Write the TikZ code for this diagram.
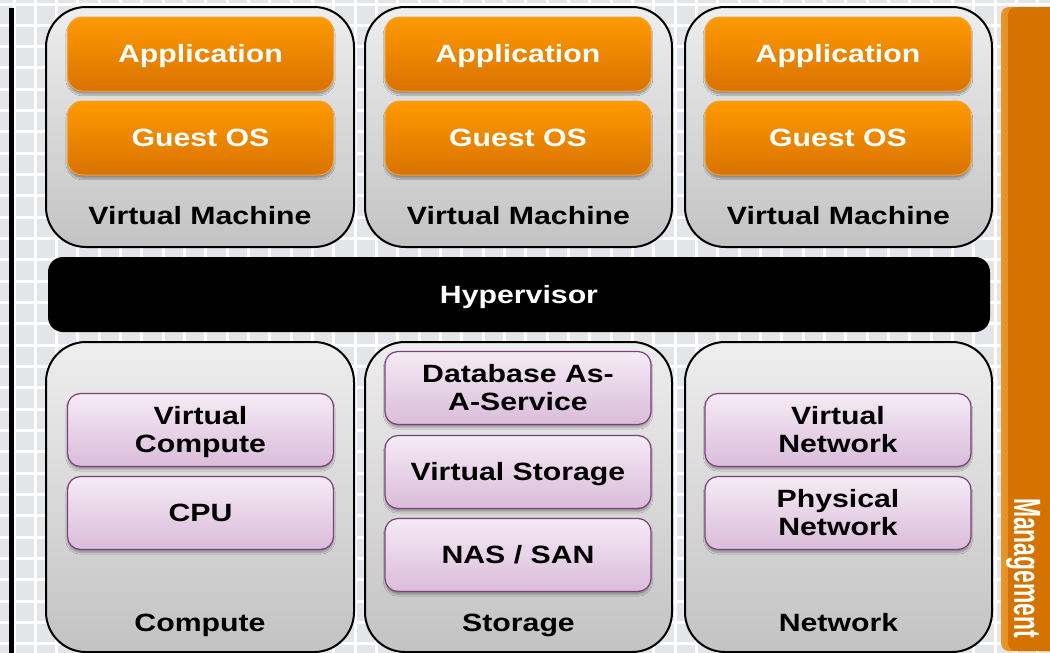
\documentclass[tikz,border=0pt]{standalone}
\usepackage{fontspec}
\newfontfamily\dfont[FakeStretch=1.21]{Liberation Sans}
\newfontfamily\mfont{Liberation Sans}
\usetikzlibrary{shadows.blur}
\definecolor{bgc}{HTML}{E4E5E9}
\definecolor{gtop}{HTML}{EEEEEE}
\definecolor{gbot}{HTML}{C3C3C3}
\definecolor{otop}{HTML}{FF9A00}
\definecolor{obot}{HTML}{D97200}
\definecolor{oline}{HTML}{F2A33A}
\definecolor{ptop}{HTML}{F5EBF5}
\definecolor{pbot}{HTML}{DABCDA}
\definecolor{pline}{HTML}{7B3F7B}
\definecolor{mleft}{HTML}{E8962A}
\definecolor{mmain}{HTML}{D57300}
\tikzset{
  txt/.style={font=\dfont\bfseries\fontsize{25}{28}\selectfont, align=center, inner sep=0pt,
    text height=17.9pt, text depth=0pt},
  two/.style={text height=45.9pt, text depth=0pt},
  graybox/.style={draw=black, line width=2pt, rounded corners=40pt, top color=gtop, bottom color=gbot, inner sep=0pt},
  orangebox/.style={draw=oline, line width=1pt, rounded corners=15pt, top color=otop, bottom color=obot, inner sep=0pt,
    minimum height=74pt, txt, text=white,
    blur shadow={shadow xshift=0pt, shadow yshift=-3pt, shadow blur steps=6, shadow opacity=35}},
  purplebox/.style={draw=pline, line width=1.2pt, rounded corners=13pt, top color=ptop, bottom color=pbot, inner sep=0pt,
    minimum height=73pt, txt, text=black,
    blur shadow={shadow xshift=0pt, shadow yshift=-3pt, shadow blur steps=6, shadow opacity=30}},
  lbl/.style={txt, text=black},
}
\begin{document}
\begin{tikzpicture}[x=1pt,y=-1pt]
\useasboundingbox (0,0) rectangle (1050,653);
% background grid
\fill[bgc] (0,0) rectangle (1050,653);
\foreach \k in {0,...,49} {\draw[white, line width=3pt] ({14+21.33*\k},0) -- ({14+21.33*\k},653);}
\foreach \k in {0,...,30} {\draw[white, line width=3pt] (0,{4+21.33*\k}) -- (1050,{4+21.33*\k});}
% left black bar
\draw[line width=5pt] (11,8) -- (11,660);
% management bar
\shade[left color=mleft, right color=mmain, rounded corners=8pt] (1001,7) rectangle (1070,651);
\fill[mmain, rounded corners=8pt] (1008,7) rectangle (1070,651);
\node[rotate=-90, anchor=base, inner sep=0pt, text=white] (mgmt) at (1014,568)
  {\scalebox{0.6}[1]{\mfont\bfseries\fontsize{38}{38}\selectfont Management}};
% virtual machines
\foreach \n/\cx/\w in {1/200/308, 2/518.5/307, 3/838.5/307} {
  \node[graybox, minimum width=\w pt, minimum height=240pt] (vm\n) at (\cx,127) {};
  \node[lbl] (vml\n) at (\cx,216) {Virtual Machine};
}
\foreach \n/\cx in {1/200.5, 2/518, 3/838} {
  \node[orangebox, minimum width=266pt] (app\n) at (\cx,54) {Application};
  \node[orangebox, minimum width=266pt] (os\n) at (\cx,138) {Guest OS};
}
% hypervisor
\node[fill=black, rounded corners=15pt, minimum width=942pt, minimum height=75pt, inner sep=0pt,
  txt, text=white] (hyp) at (519,294.5) {Hypervisor};
% bottom boxes
\node[graybox, minimum width=308pt, minimum height=310pt] (comp) at (200,497) {};
\node[graybox, minimum width=307pt, minimum height=310pt] (stor) at (518.5,497) {};
\node[graybox, minimum width=307pt, minimum height=310pt] (net) at (838.5,497) {};
\node[lbl] (compl) at (200,623) {Compute};
\node[lbl] (storl) at (518.5,623) {Storage};
\node[lbl] (netl) at (838.5,623) {Network};
% compute
\node[purplebox, two, minimum width=266pt] (vc) at (200.5,430) {Virtual\\Compute};
\node[purplebox, minimum width=266pt] (cpu) at (200.5,513) {CPU};
% storage
\node[purplebox, two, minimum width=266pt] (dbaas) at (518,388) {Database As-\\A-Service};
\node[purplebox, minimum width=266pt] (vs) at (518,472) {Virtual Storage};
\node[purplebox, minimum width=266pt] (nas) at (518,555) {NAS / SAN};
% network
\node[purplebox, two, minimum width=266pt] (vn) at (838,430) {Virtual\\Network};
\node[purplebox, two, minimum width=266pt] (pn) at (838,513) {Physical\\Network};
\end{tikzpicture}
\end{document}
